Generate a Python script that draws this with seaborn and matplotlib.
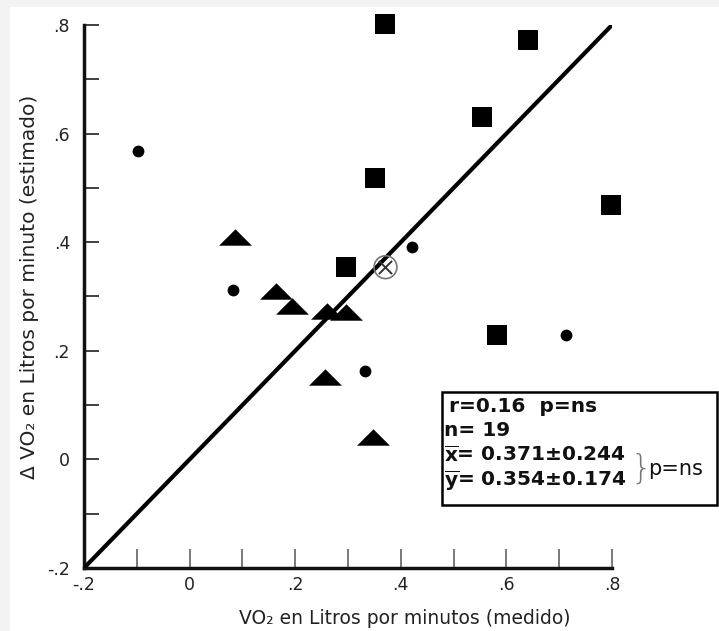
import numpy as np
import pandas as pd
import matplotlib
matplotlib.use("Agg")
import matplotlib.pyplot as plt
import seaborn as sns
from matplotlib.patches import Rectangle
from matplotlib.ticker import FixedLocator, MultipleLocator

# ---- data ----
sq_x = [0.370, 0.640, 0.553, 0.351, 0.799, 0.297, 0.583]
sq_y = [0.801, 0.772, 0.630, 0.519, 0.469, 0.354, 0.229]
ci_x = [-0.098, 0.083, 0.422, 0.332, 0.713]
ci_y = [0.568, 0.312, 0.391, 0.163, 0.229]
tr_x = [0.086, 0.164, 0.193, 0.261, 0.297, 0.256, 0.347]
tr_y = [0.410, 0.311, 0.283, 0.274, 0.272, 0.152, 0.042]
mean_x = [0.371]
mean_y = [0.354]
line_x = [-0.2, 0.8]
line_y = [-0.2, 0.8]
tick_vals = [-0.2, 0.0, 0.2, 0.4, 0.6, 0.8]
tick_labels = ["-.2", "0", ".2", ".4", ".6", ".8"]
xlabel = "VO\u2082 en Litros por minutos (medido)"
ylabel = "\u0394 VO\u2082 en Litros por minuto (estimado)"

sns.set_style("white")
plt.rcParams['font.family'] = ['DejaVu Sans']

W, H = 719, 631
fig = plt.figure(figsize=(W / 100, H / 100), dpi=100, facecolor='#f3f3f3')
fig.patches.append(Rectangle((10 / W, 0), 1, 1 - 7 / H, transform=fig.transFigure,
                             facecolor='white', edgecolor='none', zorder=-10))
ax = fig.add_axes([84 / W, (H - 568) / H, 528 / W, 543 / H])
ax.patch.set_alpha(0)

df_sq = pd.DataFrame({"x": sq_x, "y": sq_y})
df_ci = pd.DataFrame({"x": ci_x, "y": ci_y})
df_tr = pd.DataFrame({"x": tr_x, "y": tr_y})
df_line = pd.DataFrame({"x": line_x, "y": line_y})

sns.lineplot(data=df_line, x="x", y="y", ax=ax, color='black', lw=3.0, zorder=3)

tri = [(-1, -0.5), (1, -0.5), (0, 0.5), (-1, -0.5)]
sns.scatterplot(data=df_sq, x="x", y="y", ax=ax, marker='s', s=190, color='black',
                edgecolor='black', linewidth=0, clip_on=False, zorder=4)
sns.scatterplot(data=df_ci, x="x", y="y", ax=ax, marker='o', s=72, color='black',
                edgecolor='black', linewidth=0, clip_on=False, zorder=4)
sns.scatterplot(data=df_tr, x="x", y="y", ax=ax, marker=tri, s=560, color='black',
                edgecolor='black', linewidth=0, clip_on=False, zorder=4)
ax.scatter(mean_x, mean_y, marker='o', s=270, facecolor='none', edgecolor='#777777',
           linewidth=1.2, zorder=5)
ax.scatter(mean_x, mean_y, marker='x', s=90, color='#333333', linewidth=1.4, zorder=5)

ax.set_xlim(-0.2, 0.8)
ax.set_ylim(-0.2, 0.8)
for s in ['top', 'right']:
    ax.spines[s].set_visible(False)
ax.spines['left'].set_linewidth(2.5)
ax.spines['bottom'].set_linewidth(2.5)
ax.spines['left'].set_color('#111111')
ax.spines['bottom'].set_color('#111111')

ax.xaxis.set_major_locator(FixedLocator(tick_vals))
ax.yaxis.set_major_locator(FixedLocator(tick_vals))
ax.set_xticklabels(tick_labels)
ax.set_yticklabels(tick_labels)
ax.xaxis.set_minor_locator(MultipleLocator(0.1))
ax.yaxis.set_minor_locator(MultipleLocator(0.1))
ax.tick_params(axis='y', which='both', direction='in', length=11, width=1.3, left=True,
               color='#333333', labelsize=12.5, pad=10, labelcolor='#222222')
ax.tick_params(axis='x', which='both', direction='in', length=13.5, width=1.1, bottom=True,
               color='#555555', labelsize=12.5, pad=6, labelcolor='#222222')

ax.set_xlabel(xlabel, fontsize=13.5, color='#222222')
ax.set_ylabel(ylabel, fontsize=14.5, color='#222222')
ax.xaxis.set_label_coords((405 - 84) / 528, (568 - 618) / 543)
ax.yaxis.set_label_coords((30 - 84) / 528, (568 - 287) / 543)
ax.xaxis.label.set_va('center')
ax.yaxis.label.set_va('center')

# ---- stats box ----
fig.patches.append(Rectangle((442 / W, (H - 505) / H), (717 - 442) / W, (505 - 392) / H,
                             transform=fig.transFigure, facecolor='white',
                             edgecolor='black', linewidth=1.8, zorder=6))
def fx(px):
    return px / W
def fy(py):
    return (H - py) / H
tkw = dict(fontsize=14.5, fontweight='bold', va='center', ha='left', zorder=7, color='#111111')
fig.text(fx(449), fy(407), "r=0.16  p=ns", **tkw)
fig.text(fx(444), fy(430), "n= 19", **tkw)
fig.text(fx(444), fy(455), r"$\overline{\mathbf{x}}$= 0.371±0.244", **tkw)
fig.text(fx(444), fy(481), r"$\overline{\mathbf{y}}$= 0.354±0.174", **tkw)
fig.text(fx(630), fy(469), "}", fontsize=24, fontweight='light', color='#777777',
         va='center', ha='left', zorder=7)
fig.text(fx(648), fy(469), "p=ns", fontsize=15, va='center', ha='left', zorder=7,
         color='#111111')

fig.savefig("out.png", dpi=100, facecolor=fig.get_facecolor())
